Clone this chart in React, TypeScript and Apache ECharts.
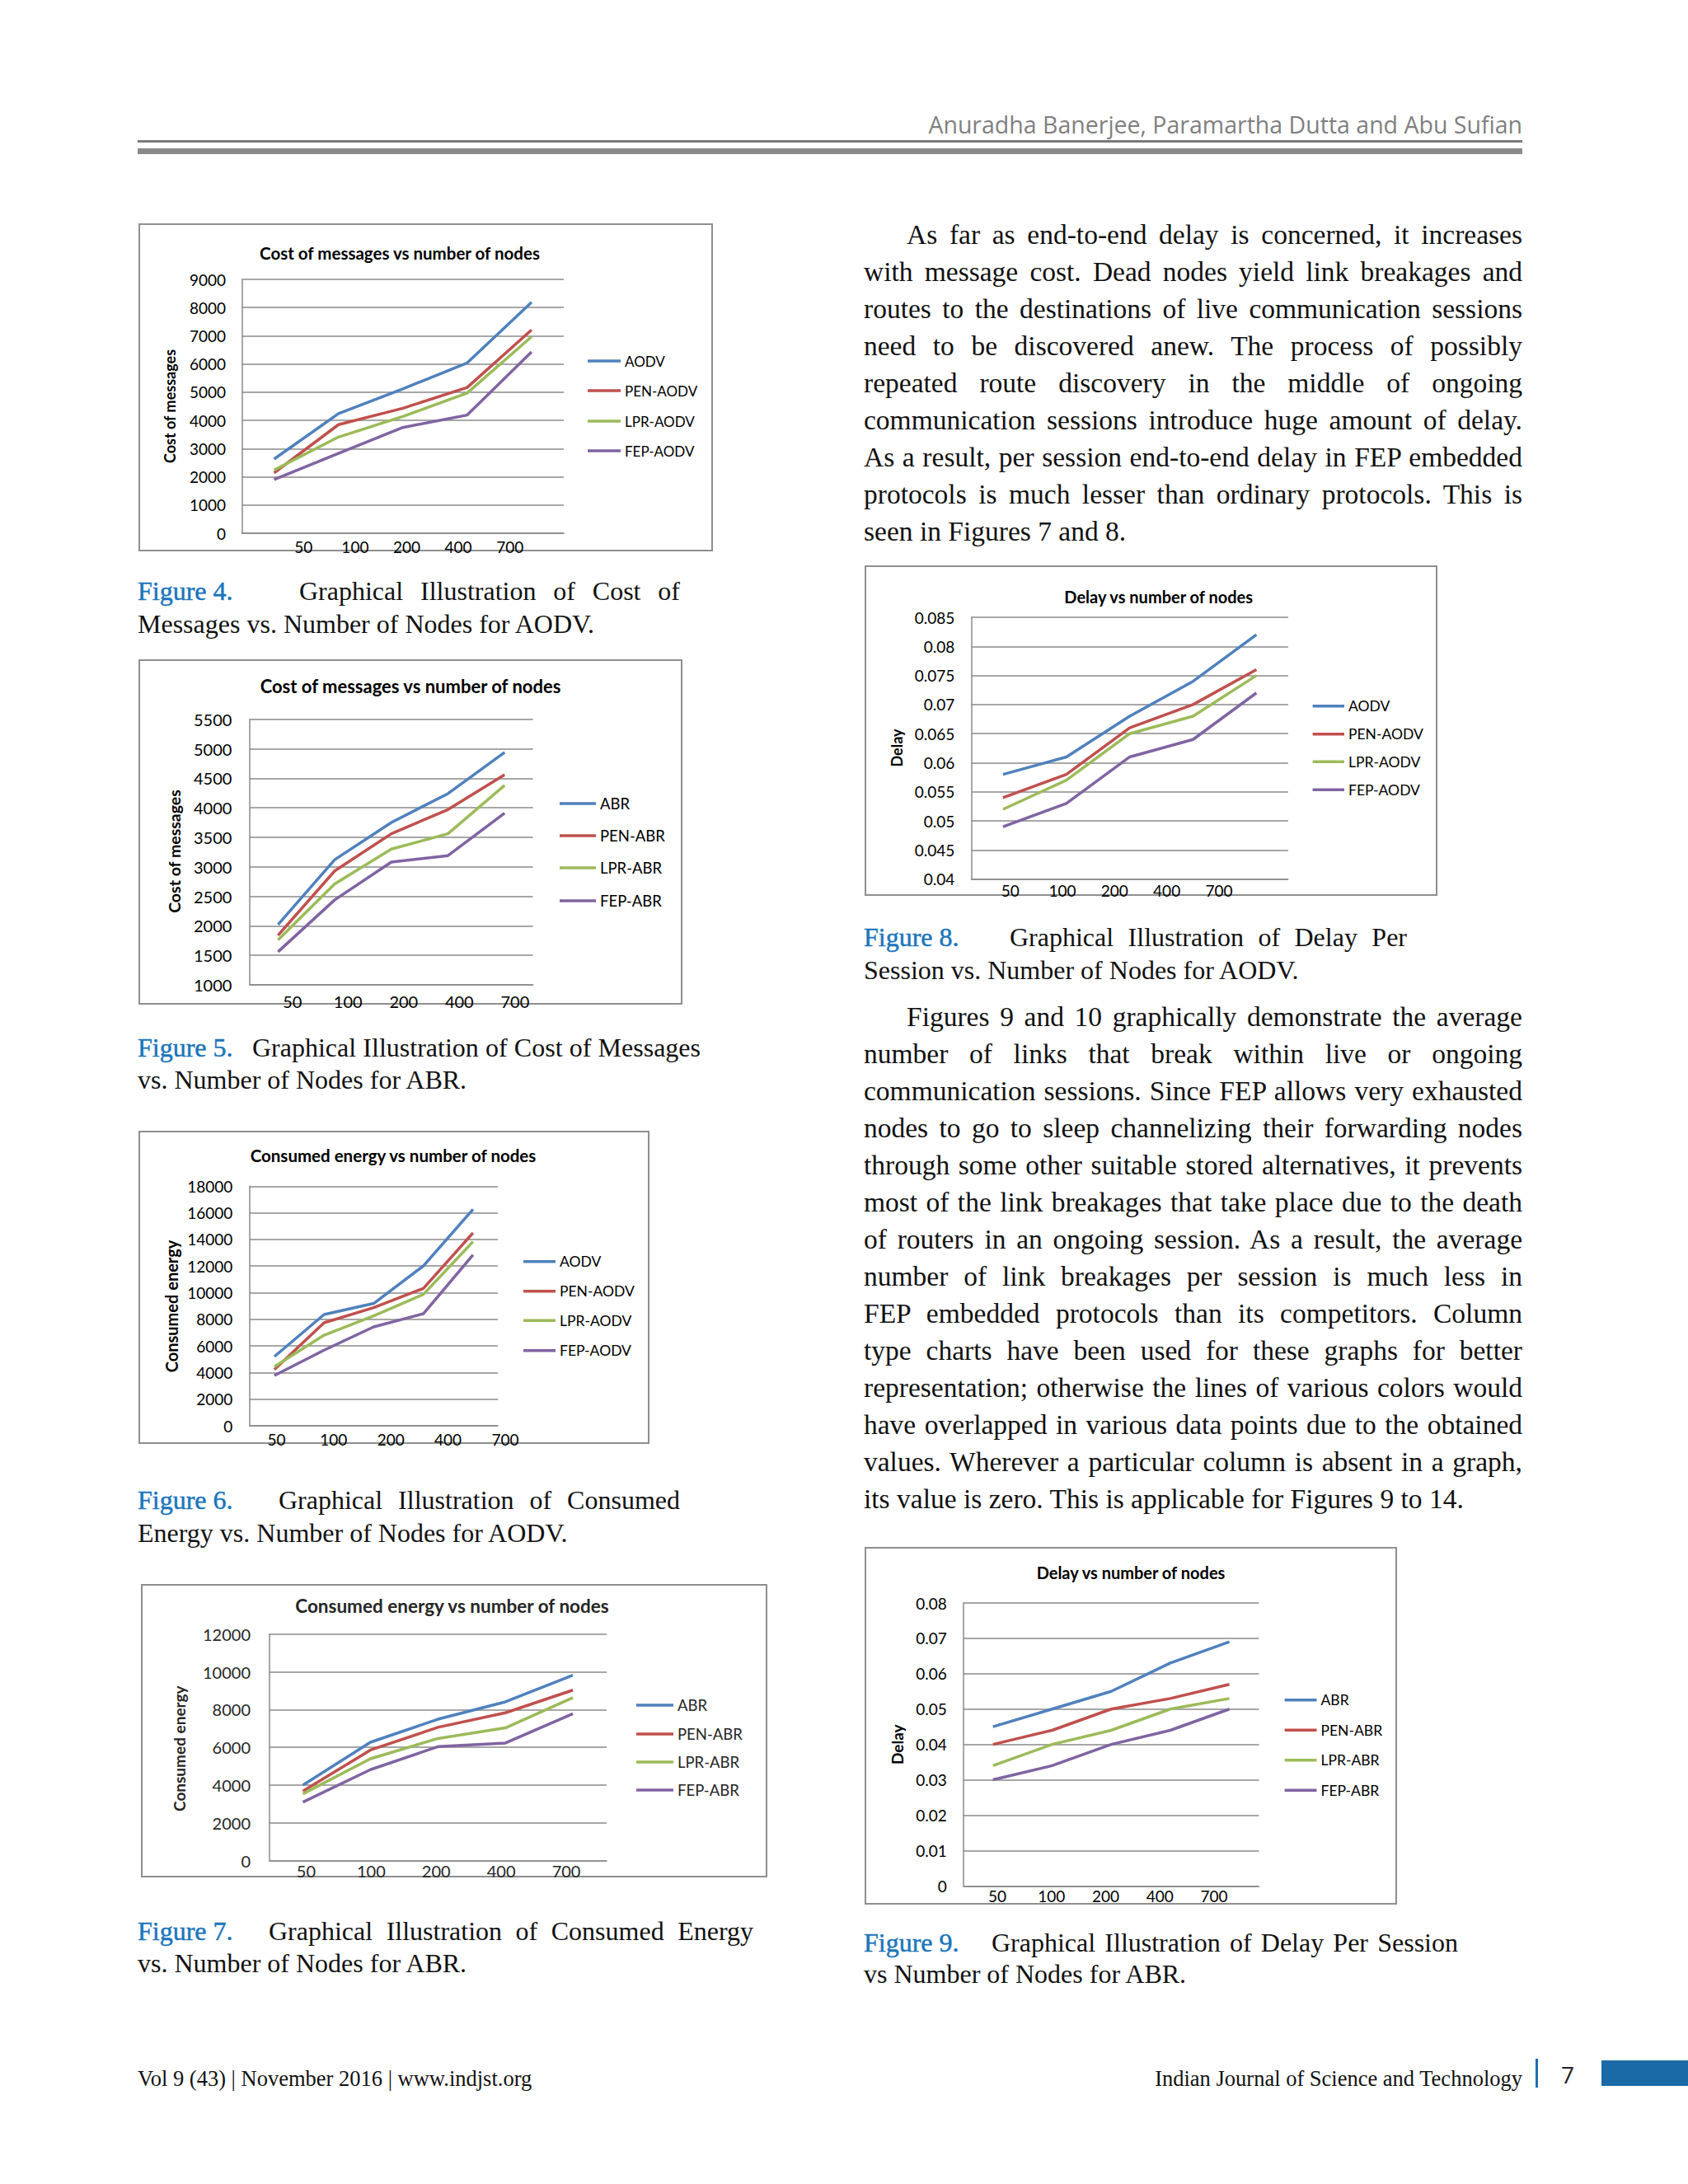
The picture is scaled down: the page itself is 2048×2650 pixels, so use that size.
import React, { useEffect, useRef } from 'react';
import * as echarts from 'echarts';

// ---------- chart data ----------
const nodeLabels = ['50', '100', '200', '400', '700'];
const lineColors = ['#4F81BD', '#C0504D', '#9BBB59', '#8064A2'];

const fig4Names = ['AODV', 'PEN-AODV', 'LPR-AODV', 'FEP-AODV'];
const fig4AODV = [2630, 4240, 5120, 6040, 8190];
const fig4PEN = [2140, 3850, 4430, 5170, 7210];
const fig4LPR = [2240, 3410, 4140, 4970, 6970];
const fig4FEP = [1900, 2830, 3750, 4190, 6430];

const fig5Names = ['ABR', 'PEN-ABR', 'LPR-ABR', 'FEP-ABR'];
const fig5ABR = [2020, 3120, 3750, 4240, 4940];
const fig5PEN = [1840, 2930, 3560, 3970, 4560];
const fig5LPR = [1760, 2710, 3300, 3560, 4380];
const fig5FEP = [1560, 2440, 3080, 3190, 3910];

const fig6Names = ['AODV', 'PEN-AODV', 'LPR-AODV', 'FEP-AODV'];
const fig6AODV = [5200, 8360, 9190, 12010, 16260];
const fig6PEN = [4230, 7740, 8880, 10320, 14490];
const fig6LPR = [4440, 6810, 8260, 9870, 13830];
const fig6FEP = [3780, 5680, 7430, 8420, 12840];

const fig7Names = ['ABR', 'PEN-ABR', 'LPR-ABR', 'FEP-ABR'];
const fig7ABR = [4000, 6270, 7490, 8410, 9820];
const fig7PEN = [3680, 5860, 7060, 7830, 9030];
const fig7LPR = [3540, 5400, 6470, 7030, 8630];
const fig7FEP = [3100, 4820, 6040, 6230, 7780];

const fig8Names = ['AODV', 'PEN-AODV', 'LPR-AODV', 'FEP-AODV'];
const fig8AODV = [0.058, 0.061, 0.068, 0.074, 0.082];
const fig8PEN = [0.054, 0.058, 0.066, 0.07, 0.076];
const fig8LPR = [0.052, 0.057, 0.065, 0.068, 0.075];
const fig8FEP = [0.049, 0.053, 0.061, 0.064, 0.072];

const fig9Names = ['ABR', 'PEN-ABR', 'LPR-ABR', 'FEP-ABR'];
const fig9ABR = [0.045, 0.05, 0.055, 0.063, 0.069];
const fig9PEN = [0.04, 0.044, 0.05, 0.053, 0.057];
const fig9LPR = [0.034, 0.04, 0.044, 0.05, 0.053];
const fig9FEP = [0.03, 0.034, 0.04, 0.044, 0.05];

const SERIF = '"Liberation Serif", "Times New Roman", serif';
const CHART_FONT = 'Lato, "Open Sans", sans-serif';
const GRID_COLOR = '#8a8a8a';
const PAD = 30; // extra room below each chart box so labels are not clipped

type Spec = {
  box: number[];
  grid: number[];
  labelGrid: number[];
  labelY: number;
  yMin: number; yMax: number; yInterval: number;
  tickRight: number; tickFs: number;
  title: string; titleX: number; titleY: number; titleFs: number;
  yName: string; yNameX: number; yNameY: number; yNameFs: number;
  legendX1: number; legendX2: number; legendRows: number[]; legendFs: number;
  names: string[];
  values: number[][];
  textColor?: string;
};

const specs: Spec[] = [
  {
    box: [168, 271, 865, 669], grid: [293.5, 339, 684, 647], labelGrid: [337, 650], labelY: 663,
    yMin: 0, yMax: 9000, yInterval: 1000, tickRight: 274, tickFs: 19,
    title: 'Cost of messages vs number of nodes', titleX: 485, titleY: 307, titleFs: 20.5,
    yName: 'Cost of messages', yNameX: 206, yNameY: 493, yNameFs: 18,
    legendX1: 713, legendX2: 753, legendRows: [438, 474, 511, 547], legendFs: 17,
    names: fig4Names, values: [fig4AODV, fig4PEN, fig4LPR, fig4FEP],
  },
  {
    box: [168, 800, 828, 1219], grid: [303, 872.7, 646.6, 1195], labelGrid: [321, 658.6], labelY: 1215,
    yMin: 1000, yMax: 5500, yInterval: 500, tickRight: 281.4, tickFs: 20,
    title: 'Cost of messages vs number of nodes', titleX: 498, titleY: 832, titleFs: 22,
    yName: 'Cost of messages', yNameX: 211, yNameY: 1033, yNameFs: 19.5,
    legendX1: 679, legendX2: 723, legendRows: [975, 1014, 1053, 1093], legendFs: 18.5,
    names: fig5Names, values: [fig5ABR, fig5PEN, fig5LPR, fig5FEP],
  },
  {
    box: [168, 1372, 788, 1752], grid: [302.8, 1439.3, 604, 1730], labelGrid: [300.7, 647.7], labelY: 1746.7,
    yMin: 0, yMax: 18000, yInterval: 2000, tickRight: 282.4, tickFs: 19,
    title: 'Consumed energy vs number of nodes', titleX: 477, titleY: 1401.7, titleFs: 20.5,
    yName: 'Consumed energy', yNameX: 208, yNameY: 1585, yNameFs: 20,
    legendX1: 635, legendX2: 674, legendRows: [1530.7, 1566.7, 1602.3, 1638.7], legendFs: 17.5,
    names: fig6Names, values: [fig6AODV, fig6PEN, fig6LPR, fig6FEP],
  },
  {
    box: [171, 1922, 931, 2278], grid: [326.6, 1982.7, 736, 2257.7], labelGrid: [332, 726.5], labelY: 2270,
    yMin: 0, yMax: 12000, yInterval: 2000, tickRight: 304, tickFs: 20,
    title: 'Consumed energy vs number of nodes', titleX: 548.5, titleY: 1948, titleFs: 22.5,
    yName: 'Consumed energy', yNameX: 217, yNameY: 2121.7, yNameFs: 19,
    legendX1: 772, legendX2: 817, legendRows: [2069, 2104, 2138, 2172], legendFs: 18.5,
    names: fig7Names, values: [fig7ABR, fig7PEN, fig7LPR, fig7FEP], textColor: '#262626',
  },
  {
    box: [1049, 686, 1744, 1087], grid: [1178.5, 749, 1562.8, 1066.7], labelGrid: [1194, 1510.6], labelY: 1080,
    yMin: 0.04, yMax: 0.085, yInterval: 0.005, tickRight: 1158.3, tickFs: 19,
    title: 'Delay vs number of nodes', titleX: 1405.7, titleY: 724, titleFs: 20,
    yName: 'Delay', yNameX: 1088, yNameY: 907.5, yNameFs: 18,
    legendX1: 1592.6, legendX2: 1631, legendRows: [856.7, 890.7, 924.3, 958.3], legendFs: 17.5,
    names: fig8Names, values: [fig8AODV, fig8PEN, fig8LPR, fig8FEP],
  },
  {
    box: [1049, 1877, 1695, 2311], grid: [1168.9, 1945, 1527.4, 2288.3], labelGrid: [1177, 1506], labelY: 2300.7,
    yMin: 0, yMax: 0.08, yInterval: 0.01, tickRight: 1148.8, tickFs: 19,
    title: 'Delay vs number of nodes', titleX: 1372, titleY: 1908.3, titleFs: 20,
    yName: 'Delay', yNameX: 1088, yNameY: 2116.7, yNameFs: 19,
    legendX1: 1558.6, legendX2: 1597.5, legendRows: [2062.7, 2099.3, 2135.7, 2172.3], legendFs: 17.5,
    names: fig9Names, values: [fig9ABR, fig9PEN, fig9LPR, fig9FEP],
  },
];

const plainNumber = (v: number) => String(Number(v.toFixed(6)));

function buildOption(s: Spec) {
  const ox = s.box[0], oy = s.box[1];
  const W = s.box[2] - s.box[0], H = s.box[3] - s.box[1] + PAD;
  const gl = s.grid[0] - ox, gt = s.grid[1] - oy;
  const gr = W - (s.grid[2] - ox), gb = H - (s.grid[3] - oy);
  const lgl = s.labelGrid[0] - ox, lgr = W - (s.labelGrid[1] - ox);
  const xMargin = s.labelY - s.grid[3] - s.tickFs / 2;
  const tc = s.textColor || '#000';
  const lineStyle = { color: GRID_COLOR, width: 1.5 };
  return {
    animation: false,
    grid: [
      { left: gl, top: gt, right: gr, bottom: gb, containLabel: false },
      { left: lgl, top: gt, right: lgr, bottom: gb, containLabel: false },
    ],
    xAxis: [
      {
        gridIndex: 0, type: 'category', data: nodeLabels, boundaryGap: true,
        axisLine: { show: true, lineStyle }, axisTick: { show: false },
        axisLabel: { show: false }, splitLine: { show: false },
      },
      {
        gridIndex: 1, type: 'category', data: nodeLabels, boundaryGap: true,
        axisLine: { show: false }, axisTick: { show: false }, splitLine: { show: false },
        axisLabel: { show: true, margin: xMargin, fontSize: s.tickFs, fontFamily: CHART_FONT, color: tc },
      },
    ],
    yAxis: [
      {
        gridIndex: 0, type: 'value', min: s.yMin, max: s.yMax, interval: s.yInterval,
        axisLine: { show: true, lineStyle }, axisTick: { show: false },
        axisLabel: { margin: gl - (s.tickRight - ox), fontSize: s.tickFs, fontFamily: CHART_FONT, color: tc, formatter: plainNumber },
        splitLine: { show: true, lineStyle },
      },
      { gridIndex: 1, type: 'value', show: false },
    ],
    legend: s.names.map((n, i) => ({
      data: [n], left: s.legendX1 - ox, top: s.legendRows[i] - oy - 10,
      itemWidth: s.legendX2 - s.legendX1, itemHeight: 3.5, icon: 'rect', selectedMode: false, padding: 0,
      textStyle: { fontSize: s.legendFs, fontFamily: CHART_FONT, color: tc, lineHeight: 20 },
    })),
    series: s.names.map((n, i) => ({
      type: 'line', name: n, data: s.values[i], xAxisIndex: 0, yAxisIndex: 0,
      symbol: 'none', showSymbol: false,
      lineStyle: { width: 3.5, color: lineColors[i] }, itemStyle: { color: lineColors[i] },
    })),
    graphic: [
      {
        type: 'text', x: s.titleX - ox, y: s.titleY - oy,
        style: {
          text: s.title, fontSize: s.titleFs, fontWeight: 'bold', fontFamily: CHART_FONT, fill: tc,
          align: 'center', verticalAlign: 'middle',
        },
      },
      {
        type: 'text', x: s.yNameX - ox, y: s.yNameY - oy, rotation: Math.PI / 2,
        style: {
          text: s.yName, fontSize: s.yNameFs, fontWeight: 'bold', fontFamily: CHART_FONT, fill: tc,
          align: 'center', verticalAlign: 'middle',
        },
      },
    ],
  };
}

function Chart({ spec }: { spec: Spec }) {
  const ref = useRef<HTMLDivElement>(null);
  useEffect(() => {
    const c = echarts.init(ref.current as HTMLDivElement, null, { renderer: 'svg' });
    c.setOption(buildOption(spec) as any);
    return () => c.dispose();
  }, []);
  const [l, t, r, b] = spec.box;
  return (
    <>
      <div style={{ position: 'absolute', left: l, top: t, width: r - l, height: b - t, boxSizing: 'border-box', border: '2px solid #8f8f8f', background: '#fff' }} />
      <div ref={ref} style={{ position: 'absolute', left: l, top: t, width: r - l, height: b - t + PAD }} />
    </>
  );
}

// ---------- page text ----------
const para1 = [
  'As far as end-to-end delay is concerned, it increases',
  'with message cost. Dead nodes yield link breakages and',
  'routes to the destinations of live communication sessions',
  'need to be discovered anew. The process of possibly',
  'repeated route discovery in the middle of ongoing',
  'communication sessions introduce huge amount of delay.',
  'As a result, per session end-to-end delay in FEP embedded',
  'protocols is much lesser than ordinary protocols. This is',
  'seen in Figures 7 and 8.',
];
const para2 = [
  'Figures 9 and 10 graphically demonstrate the average',
  'number of links that break within live or ongoing',
  'communication sessions. Since FEP allows very exhausted',
  'nodes to go to sleep channelizing their forwarding nodes',
  'through some other suitable stored alternatives, it prevents',
  'most of the link breakages that take place due to the death',
  'of routers in an ongoing session. As a result, the average',
  'number of link breakages per session is much less in',
  'FEP embedded protocols than its competitors. Column',
  'type charts have been used for these graphs for better',
  'representation; otherwise the lines of various colors would',
  'have overlapped in various data points due to the obtained',
  'values. Wherever a particular column is absent in a graph,',
  'its value is zero. This is applicable for Figures 9 to 14.',
];

type Cap = { x: number; label: string; restX: number; restEnd: number; line1: string; line2: string; y1: number; y2: number };
const captions: Cap[] = [
  { x: 167, label: 'Figure 4.', restX: 363, restEnd: 825, line1: 'Graphical Illustration of Cost of', line2: 'Messages vs. Number of Nodes for AODV.', y1: 717, y2: 757 },
  { x: 167, label: 'Figure 5.', restX: 306, restEnd: 850, line1: 'Graphical Illustration of Cost of Messages', line2: 'vs. Number of Nodes for ABR.', y1: 1271, y2: 1310 },
  { x: 167, label: 'Figure 6.', restX: 338, restEnd: 825, line1: 'Graphical Illustration of Consumed', line2: 'Energy vs. Number of Nodes for AODV.', y1: 1820, y2: 1860 },
  { x: 167, label: 'Figure 7.', restX: 326, restEnd: 914, line1: 'Graphical Illustration of Consumed Energy', line2: 'vs. Number of Nodes for ABR.', y1: 2343, y2: 2382 },
  { x: 1048, label: 'Figure 8.', restX: 1225, restEnd: 1707, line1: 'Graphical Illustration of Delay Per', line2: 'Session vs. Number of Nodes for AODV.', y1: 1137, y2: 1177 },
  { x: 1048, label: 'Figure 9.', restX: 1203, restEnd: 1769, line1: 'Graphical Illustration of Delay Per Session', line2: 'vs Number of Nodes for ABR.', y1: 2357, y2: 2395 },
];

function TextLine(p: { x: number; w?: number; cy: number; fs: number; text: string; justify?: boolean; color?: string; indent?: number; family?: string; align?: string; stroke?: boolean }) {
  const lh = p.fs * 1.4;
  return (
    <div style={{
      position: 'absolute', left: p.x, top: p.cy - 0.7 * p.fs, width: p.w, height: lh,
      fontSize: p.fs, lineHeight: `${lh}px`, fontFamily: p.family || SERIF, color: p.color || '#111',
      textAlign: (p.justify ? 'justify' : (p.align || 'left')) as any,
      textAlignLast: (p.justify ? 'justify' : (p.align || 'left')) as any,
      textIndent: p.indent || 0, whiteSpace: p.w ? 'normal' : 'nowrap',
      WebkitTextStroke: p.stroke ? '0.5px' : undefined,
    }}>{p.text}</div>
  );
}

export default function App() {
  const colX = 1048, colW = 799;
  return (
    <div style={{ position: 'absolute', left: 0, top: 0, width: 2048, height: 2650, background: '#fff', overflow: 'hidden' }}>
      {/* header */}
      <div style={{ position: 'absolute', left: 900, width: 947, top: 131, height: 40, lineHeight: '40px', textAlign: 'right', fontFamily: '"Open Sans", "Noto Sans", sans-serif', fontSize: 28.5, color: '#7f7f7f', whiteSpace: 'nowrap' }}>
        Anuradha Banerjee, Paramartha Dutta and Abu Sufian
      </div>
      <div style={{ position: 'absolute', left: 167, width: 1680, top: 170, height: 3, background: '#7a7a7a' }} />
      <div style={{ position: 'absolute', left: 167, width: 1680, top: 180, height: 7, background: '#8a8a8a' }} />

      {specs.map((s, i) => <Chart key={i} spec={s} />)}

      {captions.map((c, i) => (
        <React.Fragment key={i}>
          <TextLine x={c.x} cy={c.y1} fs={32} text={c.label} color="#1b75bb" stroke />
          <TextLine x={c.restX} w={c.restEnd - c.restX} cy={c.y1} fs={32} text={c.line1} justify />
          <TextLine x={c.x} cy={c.y2} fs={32} text={c.line2} />
        </React.Fragment>
      ))}

      {para1.map((t, i) => (
        <TextLine key={'p1' + i} x={colX} w={colW} cy={285 + i * 45} fs={33.5} text={t} justify={i < para1.length - 1} indent={i === 0 ? 52 : 0} />
      ))}
      {para2.map((t, i) => (
        <TextLine key={'p2' + i} x={colX} w={colW} cy={1234 + i * 45} fs={33.5} text={t} justify={i < para2.length - 1} indent={i === 0 ? 52 : 0} />
      ))}

      {/* footer */}
      <TextLine x={167} cy={2523} fs={26.5} text="Vol 9 (43) | November 2016 | www.indjst.org" />
      <TextLine x={1100} w={747} cy={2523} fs={26.5} text="Indian Journal of Science and Technology" align="right" />
      <div style={{ position: 'absolute', left: 1863, top: 2498, width: 3, height: 35, background: '#1f6fb0' }} />
      <div style={{ position: 'absolute', left: 1894, top: 2497, height: 40, lineHeight: '40px', fontSize: 28, fontFamily: '"Open Sans", sans-serif', color: '#222' }}>7</div>
      <div style={{ position: 'absolute', left: 1943, top: 2500, width: 105, height: 31, background: '#1a6aa8' }} />
    </div>
  );
}
